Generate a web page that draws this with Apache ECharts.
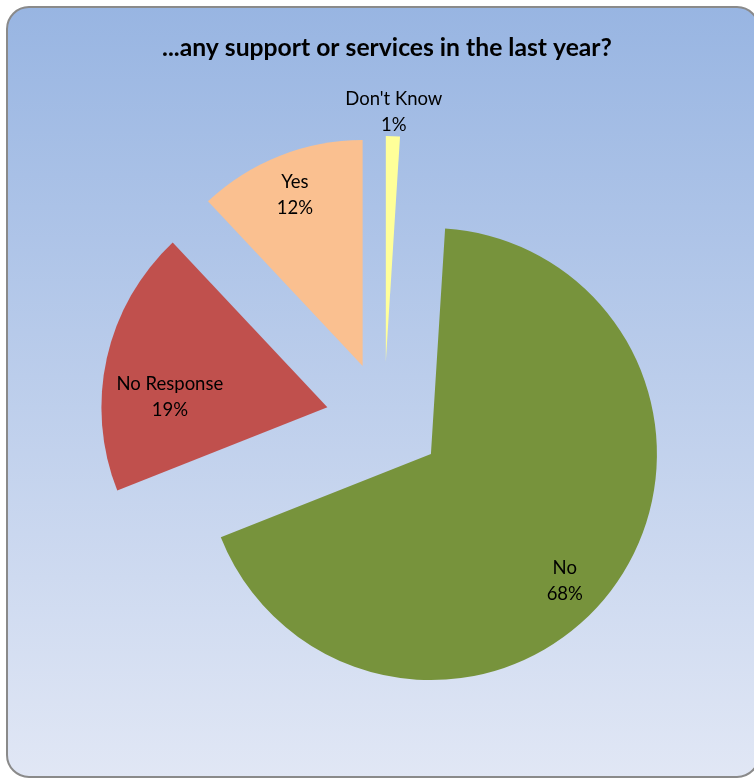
<!DOCTYPE html>
<html>
<head>
<meta charset="utf-8">
<style>
  html, body { margin: 0; padding: 0; background: #ffffff; }
  #chart { width: 754px; height: 778px; }
</style>
<script src="https://cdn.jsdelivr.net/npm/echarts@6/dist/echarts.min.js"></script>
</head>
<body>
<div id="chart"></div>
<script>
// Survey answers, in clockwise order from 12 o'clock
const categories = ["Don't Know", 'No', 'No Response', 'Yes'];
const shares = [1, 68, 19, 12];
const sliceColors = ['#ffff99', '#77933c', '#c0504d', '#fac090'];

const FONT = 'Lato, "Open Sans", sans-serif';
const CENTER = [384, 420];
const R = 226;
const EXPLODE = 58;
const CLEAR = 'rgba(0,0,0,0)';

const chart = echarts.init(document.getElementById('chart'), null, { renderer: 'canvas' });

function pieData(labelFor, colorFor) {
  return categories.map((name, i) => ({
    name: name,
    value: shares[i],
    selected: true,
    itemStyle: { color: colorFor(i) },
    label: labelFor(name, i)
  }));
}

const baseSeries = {
  type: 'pie',
  center: CENTER,
  startAngle: 90,
  clockwise: true,
  selectedMode: 'multiple',
  selectedOffset: EXPLODE,
  percentPrecision: 0,
  avoidLabelOverlap: false,
  silent: true,
  labelLine: { show: false },
  emphasis: { disabled: true }
};

const labelText = {
  formatter: '{b}\n{d}%',
  color: '#000000',
  fontFamily: FONT,
  fontSize: 18.5,
  lineHeight: 26
};

// small nudges so the two big labels sit where a best-fit layout puts them
const labelNudge = {
  'No': { dx: -15, dy: 19 },
  'No Response': { dx: 22, dy: 30 },
  "Don't Know": { dy: 4 }
};

chart.setOption({
  animation: false,
  graphic: [{
    type: 'rect',
    z: -10,
    silent: true,
    shape: { x: 7, y: 7, width: 752, height: 770, r: 22 },
    style: {
      fill: new echarts.graphic.LinearGradient(0, 0, 0, 1, [
        { offset: 0, color: '#98b5e2' },
        { offset: 1, color: '#e1e7f5' }
      ]),
      stroke: '#8a8a8a',
      lineWidth: 2
    }
  }],
  title: {
    text: '...any support or services in the last year?',
    left: 382,
    top: 31,
    textAlign: 'center',
    textStyle: { fontFamily: FONT, fontWeight: 'bold', fontSize: 24.7, color: '#000000' }
  },
  series: [
    // the slices themselves
    Object.assign({}, baseSeries, {
      radius: R,
      label: { show: false },
      data: pieData(() => ({ show: false }), (i) => sliceColors[i])
    }),
    // inner labels, placed on a ring near the outer edge
    Object.assign({}, baseSeries, {
      radius: [136, R],
      label: Object.assign({ show: true, position: 'inside' }, labelText),
      labelLayout: (p) => labelNudge[categories[p.dataIndex]] || {},
      data: pieData((name) => (name === "Don't Know" ? { show: false } : {}), () => CLEAR)
    }),
    // label for the thin slice, just outside its arc
    Object.assign({}, baseSeries, {
      radius: [R, R + 50],
      label: Object.assign({ show: true, position: 'inside' }, labelText),
      labelLayout: (p) => labelNudge[categories[p.dataIndex]] || {},
      data: pieData((name) => (name === "Don't Know" ? {} : { show: false }), () => CLEAR)
    })
  ]
});
</script>
</body>
</html>
